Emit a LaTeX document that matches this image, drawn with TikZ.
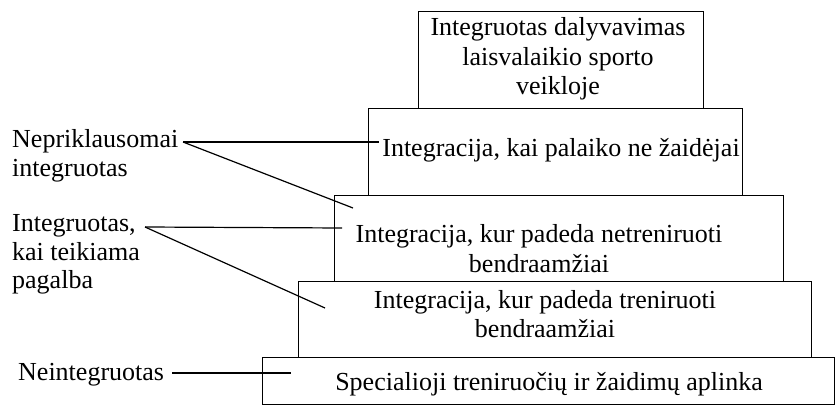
\documentclass[tikz,border=0pt]{standalone}
\usepackage{fontspec}
\setmainfont{Liberation Serif}
\newcommand{\mlc}[1]{\begin{tabular}[t]{@{}c@{}}#1\end{tabular}}
\newcommand{\mll}[1]{\begin{tabular}[t]{@{}l@{}}#1\end{tabular}}
\begin{document}
\begin{tikzpicture}[x=1pt,y=-1pt,
  lw/.style={line width=1.2pt},
  level/.style={draw, lw, fill=white, inner sep=0pt, anchor=north west},
  txt/.style={inner sep=0pt, anchor=base, font=\fontsize{26}{29.5}\selectfont},
  lbl/.style={inner sep=0pt, anchor=base west, font=\fontsize{26}{28.5}\selectfont},
  lead/.style={lw}]
\useasboundingbox (0,0) rectangle (835,406);
% pyramid levels
\node[level, minimum width=285pt, minimum height=97pt] (b1) at (418,11) {};
\node[level, minimum width=374pt, minimum height=87pt] (b2) at (368,108) {};
\node[level, minimum width=449pt, minimum height=86pt] (b3) at (334,195) {};
\node[level, minimum width=513pt, minimum height=76pt] (b4) at (298,281) {};
\node[level, minimum width=572pt, minimum height=47pt] (b5) at (262,357) {};
% texts in levels
\node[txt] (t1) at (558,36) {\mlc{Integruotas dalyvavimas\\laisvalaikio sporto\\veikloje}};
\node[txt] (t2) at (561,157) {Integracija, kai palaiko ne žaidėjai};
\node[txt] (t3) at (539,243) {\mlc{Integracija, kur padeda netreniruoti\\bendraamžiai}};
\node[txt] (t4) at (545,308) {\mlc{Integracija, kur padeda treniruoti\\bendraamžiai}};
\node[txt] (t5) at (549,390) {Specialioji treniruočių ir žaidimų aplinka};
% left labels
\node[lbl] (l1) at (12,148) {\mll{Nepriklausomai\\integruotas}};
\node[lbl] (l2) at (12,232) {\mll{Integruotas,\\kai teikiama\\pagalba}};
\node[lbl] (l3) at (18,380) {Neintegruotas};
% connector end points
\coordinate (s1) at (183,142);
\coordinate (e1a) at (379,142);
\coordinate (e1b) at (353,208);
\coordinate (s2) at (145,227);
\coordinate (e2a) at (342,228);
\coordinate (e2b) at (325,308);
\coordinate (s3) at (172,373);
\coordinate (e3) at (291,373);
\draw[lead] (s1) -- (e1a);
\draw[lead] (s1) -- (e1b);
\draw[lead] (s2) -- (e2a);
\draw[lead] (s2) -- (e2b);
\draw[lead] (s3) -- (e3);
\end{tikzpicture}
\end{document}
